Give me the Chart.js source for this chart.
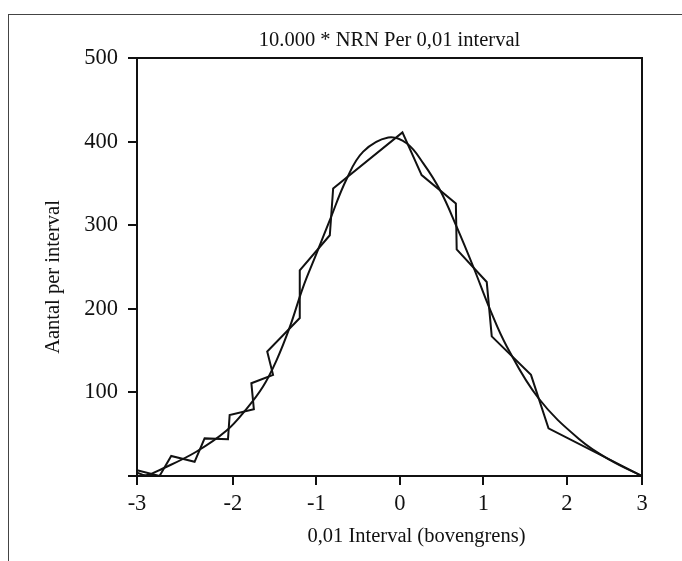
<!DOCTYPE html>
<html>
<head>
<meta charset="utf-8">
<title>10.000 * NRN Per 0,01 interval</title>
<script src="https://cdn.jsdelivr.net/npm/chart.js@4"></script>
<style>
  html, body { margin: 0; padding: 0; background: #fff; overflow: hidden; }
  #wrap { position: relative; width: 682px; height: 561px; }
  #frame {
    position: absolute; left: 8px; top: 14px; width: 700px; height: 600px;
    border: 1px solid #444;
  }
  #chart { position: absolute; left: 0; top: 0; }
</style>
</head>
<body>
<div id="wrap">
  <div id="frame"></div>
  <canvas id="chart" width="682" height="561"></canvas>
</div>
<script>
  // -- data ---------------------------------------------------------------
  // observed counts per interval (jagged polyline)
  const obsX = [-3.15, -2.88, -2.74, -2.46, -2.34, -2.06, -2.04, -1.75, -1.78, -1.52, -1.59, -1.20,
                -1.20, -0.84, -0.80, 0.03, 0.26, 0.67, 0.68, 1.04, 1.10, 1.57, 1.78, 2.90];
  const obsY = [7, 0, 24, 17, 45, 44, 73, 80, 111, 121, 149, 189,
                246, 288, 344, 411, 360, 326, 271, 232, 167, 121, 57, 0];

  // fitted (smooth) curve
  const fitX = [-3.15, -3.04, -2.84, -2.44, -2.08, -1.84, -1.64, -1.48, -1.32, -1.16, -1.00, -0.84, -0.64,
                -0.44, -0.14, 0.08, 0.28, 0.48, 0.68, 0.88, 1.08, 1.28, 1.66, 2.16, 2.52, 2.90];
  const fitY = [4, 1, 9, 29, 54, 80, 107, 138, 178, 226, 266, 306, 355,
                388, 405, 398, 374, 342, 298, 250, 199, 155, 93, 43, 19, 0];

  // x axis: labels -3 .. 3 (the outer two sit on the frame edges)
  const xTickValues = [-3.15, -2, -1, 0, 1, 2, 2.90];
  const xTickLabels = ["-3", "-2", "-1", "0", "1", "2", "3"];
  const yTicks = [0, 100, 200, 300, 400, 500];

  const X_TITLE = "0,01 Interval (bovengrens)";
  const Y_TITLE = "Aantal per interval";

  const SERIF = '"Liberation Serif", "DejaVu Serif", serif';
  const INK = "#111";
  const TICK_FONT = { family: SERIF, size: 22.5 };
  const TITLE_FONT = { family: SERIF, size: 20.5 };

  const toPoints = (xs, ys) => xs.map((x, i) => ({ x, y: ys[i] }));

  // box round the plot area, plus the two axis titles (which sit a bit
  // off-centre in the original)
  const plotFrame = {
    id: "plotFrame",
    afterDraw(chart) {
      const { ctx, chartArea: a } = chart;
      ctx.save();
      ctx.strokeStyle = INK;
      ctx.lineWidth = 2;
      ctx.strokeRect(a.left, a.top, a.right - a.left, a.bottom - a.top);

      ctx.fillStyle = INK;
      ctx.font = `${TITLE_FONT.size}px ${SERIF}`;
      ctx.textAlign = "center";
      ctx.textBaseline = "middle";
      ctx.fillText(X_TITLE, (a.left + a.right) / 2 + 27, a.bottom + 61);

      ctx.translate(54, (a.top + a.bottom) / 2 + 10);
      ctx.rotate(-Math.PI / 2);
      ctx.fillText(Y_TITLE, 0, 0);
      ctx.restore();
    },
  };

  new Chart(document.getElementById("chart"), {
    type: "line",
    data: {
      datasets: [
        {
          label: "waargenomen",
          data: toPoints(obsX, obsY),
          borderColor: INK,
          borderWidth: 2,
          pointRadius: 0,
          tension: 0,
        },
        {
          label: "normaal",
          data: toPoints(fitX, fitY),
          borderColor: INK,
          borderWidth: 2,
          pointRadius: 0,
          tension: 0.4,
        },
      ],
    },
    options: {
      responsive: false,
      animation: false,
      events: [],
      layout: { padding: { left: 0, right: 40, top: 0, bottom: 0 } },
      plugins: {
        legend: { display: false },
        tooltip: { enabled: false },
        title: { display: false },
      },
      scales: {
        x: {
          type: "linear",
          min: xTickValues[0],
          max: xTickValues[xTickValues.length - 1],
          afterBuildTicks: (s) => { s.ticks = xTickValues.map((v) => ({ value: v })); },
          afterFit: (s) => { s.height = 85; },
          ticks: {
            color: INK,
            font: TICK_FONT,
            padding: 6,
            autoSkip: false,
            maxRotation: 0,
            callback: (v, i) => xTickLabels[i],
          },
          grid: { drawOnChartArea: false, tickLength: 9, color: INK, lineWidth: 2 },
          border: { color: INK, width: 2 },
        },
        // top axis only carries the chart title, centred over the plot area
        top: {
          type: "linear",
          position: "top",
          afterFit: (s) => { s.height = 58; },
          ticks: { display: false },
          grid: { display: false },
          border: { display: false },
          title: {
            display: true,
            text: "10.000 * NRN Per 0,01 interval",
            color: INK,
            font: TITLE_FONT,
            padding: { top: 28, bottom: 0 },
          },
        },
        y: {
          min: 0,
          max: 500,
          afterBuildTicks: (s) => { s.ticks = yTicks.map((v) => ({ value: v })); },
          afterFit: (s) => { s.width = 137; },
          ticks: {
            color: INK,
            font: TICK_FONT,
            padding: 10,
            callback: (v) => (v === 0 ? "" : String(v)),
          },
          grid: { drawOnChartArea: false, tickLength: 9, color: INK, lineWidth: 2 },
          border: { color: INK, width: 2 },
        },
      },
    },
    plugins: [plotFrame],
  });
</script>
</body>
</html>
